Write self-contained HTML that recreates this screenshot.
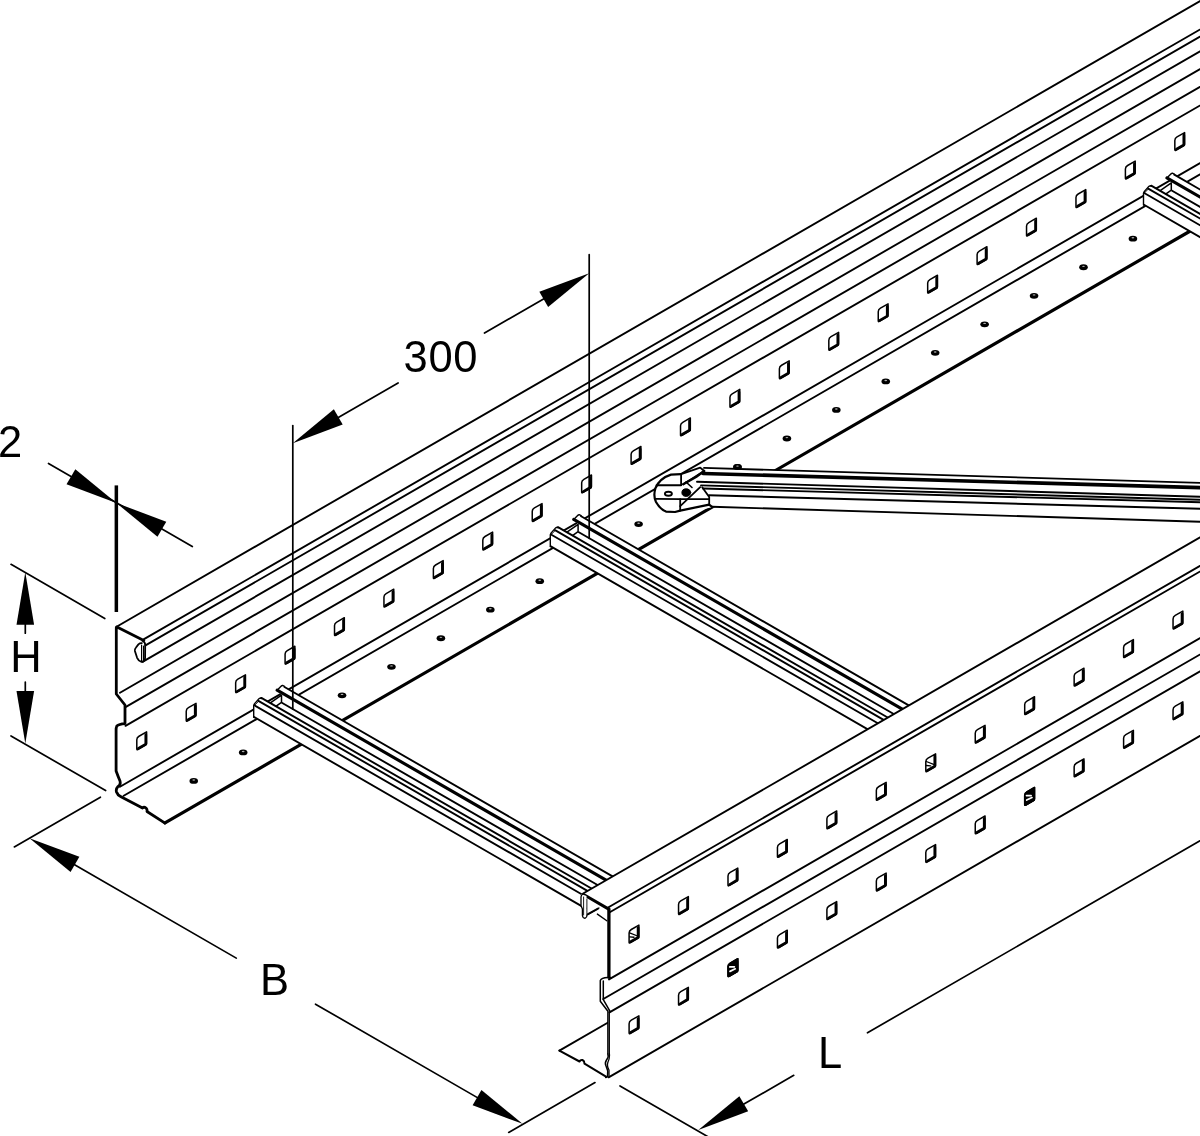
<!DOCTYPE html>
<html><head><meta charset="utf-8"><title>Cable ladder</title>
<style>
html,body{margin:0;padding:0;background:#fff;}
body{width:1200px;height:1136px;overflow:hidden;position:relative;font-family:"Liberation Sans",sans-serif;}
svg{position:absolute;left:0;top:0;display:block;}
text{font-family:"Liberation Sans",sans-serif;font-size:43.5px;fill:#000;}
</style></head><body>
<svg width="1200" height="1136" viewBox="0 0 1200 1136" stroke="#000" stroke-linecap="round" stroke-linejoin="round" fill="none">
<rect x="0" y="0" width="1200" height="1136" fill="#fff" stroke="none"/>
<line x1="117.00" y1="626.45" x2="1210.00" y2="-4.59" stroke-width="1.9" />
<line x1="144.00" y1="639.16" x2="1210.00" y2="23.71" stroke-width="1.9" />
<line x1="145.50" y1="645.40" x2="1210.00" y2="30.81" stroke-width="1.9" />
<line x1="142.50" y1="661.83" x2="1210.00" y2="45.51" stroke-width="1.9" />
<line x1="120.00" y1="692.72" x2="1210.00" y2="63.41" stroke-width="1.9" />
<line x1="125.50" y1="707.14" x2="1210.00" y2="81.01" stroke-width="1.9" />
<line x1="125.50" y1="725.84" x2="1210.00" y2="99.71" stroke-width="1.9" />
<line x1="120.00" y1="786.72" x2="1210.00" y2="157.41" stroke-width="1.9" />
<line x1="123.70" y1="795.78" x2="1210.00" y2="168.61" stroke-width="1.9" />
<line x1="165.00" y1="822.94" x2="1192.00" y2="230.00" stroke-width="3.2" />
<path d="M136.80,739.72 Q136.80,737.52 139.00,736.25 L146.60,731.86 L146.60,743.46 Q146.60,744.46 145.60,745.04 L137.80,749.54 Q136.80,750.12 136.80,749.12 Z" fill="#fff" stroke="#000" stroke-width="1.5"/>
<path d="M145.80,734.52 L145.80,744.12 L138.40,748.39" fill="none" stroke="#000" stroke-width="2.7"/>
<path d="M186.23,711.18 Q186.23,708.98 188.43,707.71 L196.03,703.32 L196.03,714.92 Q196.03,715.92 195.03,716.50 L187.23,721.00 Q186.23,721.58 186.23,720.58 Z" fill="#fff" stroke="#000" stroke-width="1.5"/>
<path d="M195.23,705.98 L195.23,715.58 L187.83,719.86" fill="none" stroke="#000" stroke-width="2.7"/>
<path d="M235.66,682.64 Q235.66,680.44 237.86,679.17 L245.46,674.78 L245.46,686.38 Q245.46,687.38 244.46,687.96 L236.66,692.46 Q235.66,693.04 235.66,692.04 Z" fill="#fff" stroke="#000" stroke-width="1.5"/>
<path d="M244.66,677.45 L244.66,687.05 L237.26,691.32" fill="none" stroke="#000" stroke-width="2.7"/>
<path d="M285.09,654.10 Q285.09,651.90 287.29,650.63 L294.89,646.25 L294.89,657.85 Q294.89,658.85 293.89,659.42 L286.09,663.93 Q285.09,664.50 285.09,663.50 Z" fill="#fff" stroke="#000" stroke-width="1.5"/>
<path d="M294.09,648.91 L294.09,658.51 L286.69,662.78" fill="none" stroke="#000" stroke-width="2.7"/>
<path d="M334.52,625.56 Q334.52,623.36 336.72,622.09 L344.32,617.71 L344.32,629.31 Q344.32,630.31 343.32,630.88 L335.52,635.39 Q334.52,635.96 334.52,634.96 Z" fill="#fff" stroke="#000" stroke-width="1.5"/>
<path d="M343.52,620.37 L343.52,629.97 L336.12,634.24" fill="none" stroke="#000" stroke-width="2.7"/>
<path d="M383.95,597.03 Q383.95,594.83 386.15,593.56 L393.75,589.17 L393.75,600.77 Q393.75,601.77 392.75,602.35 L384.95,606.85 Q383.95,607.43 383.95,606.43 Z" fill="#fff" stroke="#000" stroke-width="1.5"/>
<path d="M392.95,591.83 L392.95,601.43 L385.55,605.70" fill="none" stroke="#000" stroke-width="2.7"/>
<path d="M433.38,568.49 Q433.38,566.29 435.58,565.02 L443.18,560.63 L443.18,572.23 Q443.18,573.23 442.18,573.81 L434.38,578.31 Q433.38,578.89 433.38,577.89 Z" fill="#fff" stroke="#000" stroke-width="1.5"/>
<path d="M442.38,563.29 L442.38,572.89 L434.98,577.16" fill="none" stroke="#000" stroke-width="2.7"/>
<path d="M482.81,539.95 Q482.81,537.75 485.01,536.48 L492.61,532.09 L492.61,543.69 Q492.61,544.69 491.61,545.27 L483.81,549.77 Q482.81,550.35 482.81,549.35 Z" fill="#fff" stroke="#000" stroke-width="1.5"/>
<path d="M491.81,534.75 L491.81,544.35 L484.41,548.63" fill="none" stroke="#000" stroke-width="2.7"/>
<path d="M532.24,511.41 Q532.24,509.21 534.44,507.94 L542.04,503.55 L542.04,515.15 Q542.04,516.15 541.04,516.73 L533.24,521.23 Q532.24,521.81 532.24,520.81 Z" fill="#fff" stroke="#000" stroke-width="1.5"/>
<path d="M541.24,506.21 L541.24,515.81 L533.84,520.09" fill="none" stroke="#000" stroke-width="2.7"/>
<path d="M581.67,482.87 Q581.67,480.67 583.87,479.40 L591.47,475.01 L591.47,486.61 Q591.47,487.61 590.47,488.19 L582.67,492.70 Q581.67,493.27 581.67,492.27 Z" fill="#fff" stroke="#000" stroke-width="1.5"/>
<path d="M590.67,477.68 L590.67,487.28 L583.27,491.55" fill="none" stroke="#000" stroke-width="2.7"/>
<path d="M631.10,454.33 Q631.10,452.13 633.30,450.86 L640.90,446.48 L640.90,458.08 Q640.90,459.08 639.90,459.65 L632.10,464.16 Q631.10,464.73 631.10,463.73 Z" fill="#fff" stroke="#000" stroke-width="1.5"/>
<path d="M640.10,449.14 L640.10,458.74 L632.70,463.01" fill="none" stroke="#000" stroke-width="2.7"/>
<path d="M680.53,425.80 Q680.53,423.60 682.73,422.33 L690.33,417.94 L690.33,429.54 Q690.33,430.54 689.33,431.12 L681.53,435.62 Q680.53,436.20 680.53,435.20 Z" fill="#fff" stroke="#000" stroke-width="1.5"/>
<path d="M689.53,420.60 L689.53,430.20 L682.13,434.47" fill="none" stroke="#000" stroke-width="2.7"/>
<path d="M729.96,397.26 Q729.96,395.06 732.16,393.79 L739.76,389.40 L739.76,401.00 Q739.76,402.00 738.76,402.58 L730.96,407.08 Q729.96,407.66 729.96,406.66 Z" fill="#fff" stroke="#000" stroke-width="1.5"/>
<path d="M738.96,392.06 L738.96,401.66 L731.56,405.93" fill="none" stroke="#000" stroke-width="2.7"/>
<path d="M779.39,368.72 Q779.39,366.52 781.59,365.25 L789.19,360.86 L789.19,372.46 Q789.19,373.46 788.19,374.04 L780.39,378.54 Q779.39,379.12 779.39,378.12 Z" fill="#fff" stroke="#000" stroke-width="1.5"/>
<path d="M788.39,363.52 L788.39,373.12 L780.99,377.40" fill="none" stroke="#000" stroke-width="2.7"/>
<path d="M828.82,340.18 Q828.82,337.98 831.02,336.71 L838.62,332.32 L838.62,343.92 Q838.62,344.92 837.62,345.50 L829.82,350.00 Q828.82,350.58 828.82,349.58 Z" fill="#fff" stroke="#000" stroke-width="1.5"/>
<path d="M837.82,334.98 L837.82,344.58 L830.42,348.86" fill="none" stroke="#000" stroke-width="2.7"/>
<path d="M878.25,311.64 Q878.25,309.44 880.45,308.17 L888.05,303.78 L888.05,315.38 Q888.05,316.38 887.05,316.96 L879.25,321.46 Q878.25,322.04 878.25,321.04 Z" fill="#fff" stroke="#000" stroke-width="1.5"/>
<path d="M887.25,306.45 L887.25,316.05 L879.85,320.32" fill="none" stroke="#000" stroke-width="2.7"/>
<path d="M927.68,283.10 Q927.68,280.90 929.88,279.63 L937.48,275.25 L937.48,286.85 Q937.48,287.85 936.48,288.42 L928.68,292.93 Q927.68,293.50 927.68,292.50 Z" fill="#fff" stroke="#000" stroke-width="1.5"/>
<path d="M936.68,277.91 L936.68,287.51 L929.28,291.78" fill="none" stroke="#000" stroke-width="2.7"/>
<path d="M977.11,254.57 Q977.11,252.37 979.31,251.10 L986.91,246.71 L986.91,258.31 Q986.91,259.31 985.91,259.88 L978.11,264.39 Q977.11,264.97 977.11,263.97 Z" fill="#fff" stroke="#000" stroke-width="1.5"/>
<path d="M986.11,249.37 L986.11,258.97 L978.71,263.24" fill="none" stroke="#000" stroke-width="2.7"/>
<path d="M1026.54,226.03 Q1026.54,223.83 1028.74,222.56 L1036.34,218.17 L1036.34,229.77 Q1036.34,230.77 1035.34,231.35 L1027.54,235.85 Q1026.54,236.43 1026.54,235.43 Z" fill="#fff" stroke="#000" stroke-width="1.5"/>
<path d="M1035.54,220.83 L1035.54,230.43 L1028.14,234.70" fill="none" stroke="#000" stroke-width="2.7"/>
<path d="M1075.97,197.49 Q1075.97,195.29 1078.17,194.02 L1085.77,189.63 L1085.77,201.23 Q1085.77,202.23 1084.77,202.81 L1076.97,207.31 Q1075.97,207.89 1075.97,206.89 Z" fill="#fff" stroke="#000" stroke-width="1.5"/>
<path d="M1084.97,192.29 L1084.97,201.89 L1077.57,206.16" fill="none" stroke="#000" stroke-width="2.7"/>
<path d="M1125.40,168.95 Q1125.40,166.75 1127.60,165.48 L1135.20,161.09 L1135.20,172.69 Q1135.20,173.69 1134.20,174.27 L1126.40,178.77 Q1125.40,179.35 1125.40,178.35 Z" fill="#fff" stroke="#000" stroke-width="1.5"/>
<path d="M1134.40,163.75 L1134.40,173.35 L1127.00,177.63" fill="none" stroke="#000" stroke-width="2.7"/>
<path d="M1174.83,140.41 Q1174.83,138.21 1177.03,136.94 L1184.63,132.55 L1184.63,144.15 Q1184.63,145.15 1183.63,145.73 L1175.83,150.23 Q1174.83,150.81 1174.83,149.81 Z" fill="#fff" stroke="#000" stroke-width="1.5"/>
<path d="M1183.83,135.22 L1183.83,144.82 L1176.43,149.09" fill="none" stroke="#000" stroke-width="2.7"/>
<path d="M1224.26,111.87 Q1224.26,109.67 1226.46,108.40 L1234.06,104.02 L1234.06,115.62 Q1234.06,116.62 1233.06,117.19 L1225.26,121.70 Q1224.26,122.27 1224.26,121.27 Z" fill="#fff" stroke="#000" stroke-width="1.5"/>
<path d="M1233.26,106.68 L1233.26,116.28 L1225.86,120.55" fill="none" stroke="#000" stroke-width="2.7"/>
<ellipse cx="193.75" cy="780.94" rx="4.3" ry="2.9" fill="#000" stroke="none"/>
<ellipse cx="193.75" cy="780.04" rx="1.4" ry="0.7" fill="#aaa" stroke="none"/>
<ellipse cx="243.18" cy="752.40" rx="4.3" ry="2.9" fill="#000" stroke="none"/>
<ellipse cx="243.18" cy="751.50" rx="1.4" ry="0.7" fill="#aaa" stroke="none"/>
<ellipse cx="292.61" cy="723.86" rx="4.3" ry="2.9" fill="#000" stroke="none"/>
<ellipse cx="292.61" cy="722.96" rx="1.4" ry="0.7" fill="#aaa" stroke="none"/>
<ellipse cx="342.04" cy="695.32" rx="4.3" ry="2.9" fill="#000" stroke="none"/>
<ellipse cx="342.04" cy="694.42" rx="1.4" ry="0.7" fill="#aaa" stroke="none"/>
<ellipse cx="391.47" cy="666.78" rx="4.3" ry="2.9" fill="#000" stroke="none"/>
<ellipse cx="391.47" cy="665.88" rx="1.4" ry="0.7" fill="#aaa" stroke="none"/>
<ellipse cx="440.90" cy="638.25" rx="4.3" ry="2.9" fill="#000" stroke="none"/>
<ellipse cx="440.90" cy="637.35" rx="1.4" ry="0.7" fill="#aaa" stroke="none"/>
<ellipse cx="490.33" cy="609.71" rx="4.3" ry="2.9" fill="#000" stroke="none"/>
<ellipse cx="490.33" cy="608.81" rx="1.4" ry="0.7" fill="#aaa" stroke="none"/>
<ellipse cx="539.76" cy="581.17" rx="4.3" ry="2.9" fill="#000" stroke="none"/>
<ellipse cx="539.76" cy="580.27" rx="1.4" ry="0.7" fill="#aaa" stroke="none"/>
<ellipse cx="589.19" cy="552.63" rx="4.3" ry="2.9" fill="#000" stroke="none"/>
<ellipse cx="589.19" cy="551.73" rx="1.4" ry="0.7" fill="#aaa" stroke="none"/>
<ellipse cx="638.62" cy="524.09" rx="4.3" ry="2.9" fill="#000" stroke="none"/>
<ellipse cx="638.62" cy="523.19" rx="1.4" ry="0.7" fill="#aaa" stroke="none"/>
<ellipse cx="688.05" cy="495.55" rx="4.3" ry="2.9" fill="#000" stroke="none"/>
<ellipse cx="688.05" cy="494.65" rx="1.4" ry="0.7" fill="#aaa" stroke="none"/>
<ellipse cx="737.48" cy="467.02" rx="4.3" ry="2.9" fill="#000" stroke="none"/>
<ellipse cx="737.48" cy="466.12" rx="1.4" ry="0.7" fill="#aaa" stroke="none"/>
<ellipse cx="786.91" cy="438.48" rx="4.3" ry="2.9" fill="#000" stroke="none"/>
<ellipse cx="786.91" cy="437.58" rx="1.4" ry="0.7" fill="#aaa" stroke="none"/>
<ellipse cx="836.34" cy="409.94" rx="4.3" ry="2.9" fill="#000" stroke="none"/>
<ellipse cx="836.34" cy="409.04" rx="1.4" ry="0.7" fill="#aaa" stroke="none"/>
<ellipse cx="885.77" cy="381.40" rx="4.3" ry="2.9" fill="#000" stroke="none"/>
<ellipse cx="885.77" cy="380.50" rx="1.4" ry="0.7" fill="#aaa" stroke="none"/>
<ellipse cx="935.20" cy="352.86" rx="4.3" ry="2.9" fill="#000" stroke="none"/>
<ellipse cx="935.20" cy="351.96" rx="1.4" ry="0.7" fill="#aaa" stroke="none"/>
<ellipse cx="984.63" cy="324.32" rx="4.3" ry="2.9" fill="#000" stroke="none"/>
<ellipse cx="984.63" cy="323.42" rx="1.4" ry="0.7" fill="#aaa" stroke="none"/>
<ellipse cx="1034.06" cy="295.79" rx="4.3" ry="2.9" fill="#000" stroke="none"/>
<ellipse cx="1034.06" cy="294.89" rx="1.4" ry="0.7" fill="#aaa" stroke="none"/>
<ellipse cx="1083.49" cy="267.25" rx="4.3" ry="2.9" fill="#000" stroke="none"/>
<ellipse cx="1083.49" cy="266.35" rx="1.4" ry="0.7" fill="#aaa" stroke="none"/>
<ellipse cx="1132.92" cy="238.71" rx="4.3" ry="2.9" fill="#000" stroke="none"/>
<ellipse cx="1132.92" cy="237.81" rx="1.4" ry="0.7" fill="#aaa" stroke="none"/>
<ellipse cx="1182.35" cy="210.17" rx="4.3" ry="2.9" fill="#000" stroke="none"/>
<ellipse cx="1182.35" cy="209.27" rx="1.4" ry="0.7" fill="#aaa" stroke="none"/>
<ellipse cx="1231.78" cy="181.63" rx="4.3" ry="2.9" fill="#000" stroke="none"/>
<ellipse cx="1231.78" cy="180.73" rx="1.4" ry="0.7" fill="#aaa" stroke="none"/>
<path d="M143.8,640.4 L117,627 Q116.3,626.8 116.3,628 L116.3,694 L125,705 L125,723.6 Q119,724 116.8,726 Q116.1,727.5 116.1,730 L116.1,771 Q118.3,777 120,781 Q121,785 118,786.5 Q115.6,789 116.5,792 Q117.5,795 121,796.8 L142.5,808 Q144,806.5 146,808 Q147.5,809.5 147,811.5 L165,823.1" fill="none" stroke="#000" stroke-width="2.8"/>
<path d="M142.5,641 Q145.3,642 145.2,645 L145.1,658 Q144.8,661.8 141.5,661.9 Q138.5,661 137.1,657.8 L134.9,651 Q134.6,649 136,647.5 L138.4,644.4 Q140,643 141.8,643.2" fill="none" stroke="#000" stroke-width="1.8"/>
<path d="M141.6,645 L141.6,661 M143.6,646 L143.6,660.5" fill="none" stroke="#000" stroke-width="1.2"/>
<polygon points="700.00,468.00 1210.00,483.20 1210.00,522.00 712.00,507.20 700.00,510.00 681.00,510.50 665.00,511.50 655.00,503.00 654.00,492.00 660.00,481.00 671.00,475.00 681.00,474.00" fill="#fff" stroke="none" stroke-width="1.3"/>
<line x1="704.00" y1="467.91" x2="1210.00" y2="483.20" stroke-width="1.9" />
<line x1="703.00" y1="473.48" x2="1210.00" y2="487.88" stroke-width="3.6" />
<line x1="697.00" y1="481.72" x2="1210.00" y2="497.00" stroke-width="1.9" />
<line x1="701.00" y1="485.41" x2="1210.00" y2="499.99" stroke-width="1.9" />
<line x1="703.00" y1="488.53" x2="1210.00" y2="502.47" stroke-width="1.9" />
<line x1="709.00" y1="495.31" x2="1210.00" y2="508.97" stroke-width="1.9" />
<line x1="712.00" y1="506.73" x2="1210.00" y2="522.01" stroke-width="1.9" />
<path d="M681.1,474.1 L671,474.6 Q660,478 655.5,488 Q653,496 656,502 Q660,509 666,511.6 L675,512 L680.2,510.6 L709.2,504.7 L712,506.8" fill="none" stroke="#000" stroke-width="2.2"/>
<path d="M656.5,485.2 L681.1,485.2" fill="none" stroke="#000" stroke-width="1.9"/>
<path d="M656,498.8 L680.2,499.2 L709.2,499.2" fill="none" stroke="#000" stroke-width="1.8"/>
<path d="M681.1,474.1 L681.1,485.2 M680.2,499.2 L680.2,510.6" fill="none" stroke="#000" stroke-width="1.8"/>
<path d="M681.1,474.1 L700.2,467.6 L704.2,471 L683.2,484.2" fill="none" stroke="#000" stroke-width="1.9"/>
<path d="M683.2,484.2 L696,477 L704.2,471" fill="none" stroke="#000" stroke-width="2.4"/>
<path d="M680.2,506.2 L700.2,487.2 M702.2,487.2 L709.2,497 L709.2,504.7" fill="none" stroke="#000" stroke-width="1.8"/>
<path d="M686,482 L692,487.5" fill="none" stroke="#000" stroke-width="1.6"/>
<ellipse cx="668.4" cy="493.7" rx="3.5" ry="2.0" fill="#fff" stroke="#000" stroke-width="1.9"/>
<ellipse cx="737.48" cy="467.02" rx="4.3" ry="2.9" fill="#000" stroke="none"/>
<ellipse cx="737.48" cy="466.12" rx="1.4" ry="0.7" fill="#aaa" stroke="none"/>
<ellipse cx="686.3" cy="492.6" rx="4.4" ry="3.8" fill="#000"/>
<polygon points="253.70,717.30 253.70,704.60 259.70,698.10 261.40,698.40 270.40,703.60 281.50,695.10 277.10,690.00 282.00,685.30 284.50,686.40 612.71,876.45 583.49,907.18" fill="#fff" stroke="none" stroke-width="1.3"/>
<line x1="284.50" y1="686.96" x2="614.71" y2="877.60" stroke-width="1.9" />
<line x1="277.10" y1="690.18" x2="608.22" y2="881.35" stroke-width="3.1" />
<line x1="282.30" y1="702.99" x2="599.73" y2="886.25" stroke-width="1.9" />
<line x1="261.40" y1="697.92" x2="593.67" y2="889.75" stroke-width="1.9" />
<line x1="258.40" y1="700.89" x2="590.46" y2="892.60" stroke-width="1.9" />
<line x1="254.40" y1="705.28" x2="583.80" y2="895.45" stroke-width="1.9" />
<line x1="254.20" y1="717.06" x2="585.49" y2="908.33" stroke-width="1.9" />
<path d="M253.70,717.30 L253.70,705.60 L254.60,703.60 L259.00,698.60 L260.60,698.00 L261.60,698.50" fill="none" stroke="#000" stroke-width="1.4"/>
<path d="M254.30,705.50 L258.40,701.40" fill="none" stroke="#000" stroke-width="1.0"/>
<path d="M270.40,702.80 L281.50,695.10 L281.50,702.30 L276.20,706.20" fill="none" stroke="#000" stroke-width="1.5"/>
<path d="M277.10,690.30 L281.30,686.00 L282.60,685.40 L284.50,686.40" fill="none" stroke="#000" stroke-width="1.4"/>
<polygon points="550.30,546.55 550.30,533.85 556.30,527.35 558.00,527.65 567.00,532.85 578.10,524.35 573.70,519.25 578.60,514.55 581.10,515.65 908.89,705.45 879.67,736.18" fill="#fff" stroke="none" stroke-width="1.3"/>
<line x1="581.10" y1="516.20" x2="910.89" y2="706.61" stroke-width="1.9" />
<line x1="573.70" y1="519.43" x2="904.40" y2="710.36" stroke-width="3.1" />
<line x1="578.90" y1="532.23" x2="895.91" y2="715.26" stroke-width="1.9" />
<line x1="558.00" y1="527.17" x2="889.85" y2="718.76" stroke-width="1.9" />
<line x1="555.00" y1="530.13" x2="886.64" y2="721.61" stroke-width="1.9" />
<line x1="551.00" y1="534.52" x2="879.97" y2="724.46" stroke-width="1.9" />
<line x1="550.80" y1="546.31" x2="881.67" y2="737.33" stroke-width="1.9" />
<path d="M550.30,546.55 L550.30,534.85 L551.20,532.85 L555.60,527.85 L557.20,527.25 L558.20,527.75" fill="none" stroke="#000" stroke-width="1.4"/>
<path d="M550.90,534.75 L555.00,530.65" fill="none" stroke="#000" stroke-width="1.0"/>
<path d="M567.00,532.05 L578.10,524.35 L578.10,531.55 L572.80,535.45" fill="none" stroke="#000" stroke-width="1.5"/>
<path d="M573.70,519.55 L577.90,515.25 L579.20,514.65 L581.10,515.65" fill="none" stroke="#000" stroke-width="1.4"/>
<polygon points="1143.50,205.04 1143.50,192.34 1149.50,185.84 1151.20,186.14 1160.20,191.34 1171.30,182.84 1166.90,177.74 1171.80,173.04 1174.30,174.14 1501.25,363.46 1472.02,394.18" fill="#fff" stroke="none" stroke-width="1.3"/>
<line x1="1174.30" y1="174.69" x2="1503.25" y2="364.61" stroke-width="1.9" />
<line x1="1166.90" y1="177.92" x2="1496.75" y2="368.36" stroke-width="3.1" />
<line x1="1172.10" y1="190.72" x2="1488.26" y2="373.26" stroke-width="1.9" />
<line x1="1151.20" y1="185.66" x2="1482.20" y2="376.76" stroke-width="1.9" />
<line x1="1148.20" y1="188.62" x2="1479.00" y2="379.61" stroke-width="1.9" />
<line x1="1144.20" y1="193.01" x2="1472.33" y2="382.46" stroke-width="1.9" />
<line x1="1144.00" y1="204.80" x2="1474.02" y2="395.34" stroke-width="1.9" />
<path d="M1143.50,205.04 L1143.50,193.34 L1144.40,191.34 L1148.80,186.34 L1150.40,185.74 L1151.40,186.24" fill="none" stroke="#000" stroke-width="1.4"/>
<path d="M1144.10,193.24 L1148.20,189.14" fill="none" stroke="#000" stroke-width="1.0"/>
<path d="M1160.20,190.54 L1171.30,182.84 L1171.30,190.04 L1166.00,193.94" fill="none" stroke="#000" stroke-width="1.5"/>
<path d="M1166.90,178.04 L1171.10,173.74 L1172.40,173.14 L1174.30,174.14" fill="none" stroke="#000" stroke-width="1.4"/>
<polygon points="559.40,1050.60 608.10,1022.50 608.10,1077.50" fill="#fff" stroke="none" stroke-width="1.3"/>
<line x1="559.40" y1="1050.63" x2="608.10" y2="1022.51" stroke-width="1.9" />
<path d="M559.4,1050.6 L579.5,1061.5 Q580.5,1059.5 582.5,1060 Q584.5,1061 584.5,1063.7 L606,1076.6" fill="none" stroke="#000" stroke-width="2.0"/>
<polygon points="583.10,893.55 1210.00,531.61 1210.00,730.11 608.10,1078.41 607.80,1053.00 608.10,1011.50 600.20,1001.50 600.20,979.00 607.60,977.50 607.60,908.20" fill="#fff" stroke="none" stroke-width="1.3"/>
<line x1="583.10" y1="893.55" x2="1210.00" y2="531.61" stroke-width="1.9" />
<line x1="608.10" y1="907.51" x2="1210.00" y2="560.01" stroke-width="1.9" />
<line x1="610.20" y1="912.00" x2="1210.00" y2="565.71" stroke-width="1.9" />
<line x1="609.00" y1="979.39" x2="1210.00" y2="632.41" stroke-width="1.9" />
<line x1="603.30" y1="998.98" x2="1210.00" y2="648.71" stroke-width="1.9" />
<line x1="609.50" y1="1012.31" x2="1210.00" y2="665.61" stroke-width="1.9" />
<line x1="608.60" y1="1077.32" x2="1210.00" y2="730.11" stroke-width="1.9" />
<path d="M629.10,932.99 Q629.10,930.79 631.30,929.52 L638.90,925.13 L638.90,936.73 Q638.90,937.73 637.90,938.31 L630.10,942.81 Q629.10,943.39 629.10,942.39 Z" fill="#fff" stroke="#000" stroke-width="1.5"/>
<path d="M638.10,927.79 L638.10,937.39 L630.70,941.67" fill="none" stroke="#000" stroke-width="2.7"/>
<path d="M629.60,932.79 L636.90,935.73 M629.60,936.79 L634.00,937.26" fill="none" stroke="#000" stroke-width="1.3"/>
<path d="M629.10,1023.69 Q629.10,1021.49 631.30,1020.22 L638.90,1015.83 L638.90,1027.43 Q638.90,1028.43 637.90,1029.01 L630.10,1033.51 Q629.10,1034.09 629.10,1033.09 Z" fill="#fff" stroke="#000" stroke-width="1.5"/>
<path d="M638.10,1018.49 L638.10,1028.09 L630.70,1032.37" fill="none" stroke="#000" stroke-width="2.7"/>
<path d="M678.55,904.44 Q678.55,902.24 680.75,900.97 L688.35,896.58 L688.35,908.18 Q688.35,909.18 687.35,909.76 L679.55,914.26 Q678.55,914.84 678.55,913.84 Z" fill="#fff" stroke="#000" stroke-width="1.5"/>
<path d="M687.55,899.24 L687.55,908.84 L680.15,913.12" fill="none" stroke="#000" stroke-width="2.7"/>
<path d="M678.55,995.14 Q678.55,992.94 680.75,991.67 L688.35,987.28 L688.35,998.88 Q688.35,999.88 687.35,1000.46 L679.55,1004.96 Q678.55,1005.54 678.55,1004.54 Z" fill="#fff" stroke="#000" stroke-width="1.5"/>
<path d="M687.55,989.94 L687.55,999.54 L680.15,1003.82" fill="none" stroke="#000" stroke-width="2.7"/>
<path d="M728.00,875.89 Q728.00,873.69 730.20,872.42 L737.80,868.03 L737.80,879.63 Q737.80,880.63 736.80,881.21 L729.00,885.71 Q728.00,886.29 728.00,885.29 Z" fill="#fff" stroke="#000" stroke-width="1.5"/>
<path d="M737.00,870.69 L737.00,880.29 L729.60,884.57" fill="none" stroke="#000" stroke-width="2.7"/>
<path d="M728.00,966.59 Q728.00,964.39 730.20,963.12 L737.80,958.73 L737.80,970.33 Q737.80,971.33 736.80,971.91 L729.00,976.41 Q728.00,976.99 728.00,975.99 Z" fill="#fff" stroke="#000" stroke-width="1.5"/>
<path d="M737.00,961.39 L737.00,970.99 L729.60,975.27" fill="none" stroke="#000" stroke-width="2.7"/>
<path d="M728.00,966.59 Q728.00,964.39 730.20,963.12 L737.80,958.73 L737.80,970.33 Q737.80,971.33 736.80,971.91 L729.00,976.41 Q728.00,976.99 728.00,975.99 Z" fill="#000" stroke="#000" stroke-width="1.5"/>
<path d="M729.80,966.89 L734.40,966.86 M730.00,971.36 L735.30,968.83" fill="none" stroke="#fff" stroke-width="1.7"/>
<path d="M777.45,847.34 Q777.45,845.14 779.65,843.87 L787.25,839.48 L787.25,851.08 Q787.25,852.08 786.25,852.66 L778.45,857.16 Q777.45,857.74 777.45,856.74 Z" fill="#fff" stroke="#000" stroke-width="1.5"/>
<path d="M786.45,842.14 L786.45,851.74 L779.05,856.02" fill="none" stroke="#000" stroke-width="2.7"/>
<path d="M777.45,938.04 Q777.45,935.84 779.65,934.57 L787.25,930.18 L787.25,941.78 Q787.25,942.78 786.25,943.36 L778.45,947.86 Q777.45,948.44 777.45,947.44 Z" fill="#fff" stroke="#000" stroke-width="1.5"/>
<path d="M786.45,932.84 L786.45,942.44 L779.05,946.72" fill="none" stroke="#000" stroke-width="2.7"/>
<path d="M826.90,818.79 Q826.90,816.59 829.10,815.32 L836.70,810.93 L836.70,822.53 Q836.70,823.53 835.70,824.11 L827.90,828.61 Q826.90,829.19 826.90,828.19 Z" fill="#fff" stroke="#000" stroke-width="1.5"/>
<path d="M835.90,813.59 L835.90,823.19 L828.50,827.47" fill="none" stroke="#000" stroke-width="2.7"/>
<path d="M826.90,909.49 Q826.90,907.29 829.10,906.02 L836.70,901.63 L836.70,913.23 Q836.70,914.23 835.70,914.81 L827.90,919.31 Q826.90,919.89 826.90,918.89 Z" fill="#fff" stroke="#000" stroke-width="1.5"/>
<path d="M835.90,904.29 L835.90,913.89 L828.50,918.17" fill="none" stroke="#000" stroke-width="2.7"/>
<path d="M876.35,790.24 Q876.35,788.04 878.55,786.77 L886.15,782.38 L886.15,793.98 Q886.15,794.98 885.15,795.56 L877.35,800.06 Q876.35,800.64 876.35,799.64 Z" fill="#fff" stroke="#000" stroke-width="1.5"/>
<path d="M885.35,785.04 L885.35,794.64 L877.95,798.92" fill="none" stroke="#000" stroke-width="2.7"/>
<path d="M876.35,880.94 Q876.35,878.74 878.55,877.47 L886.15,873.08 L886.15,884.68 Q886.15,885.68 885.15,886.26 L877.35,890.76 Q876.35,891.34 876.35,890.34 Z" fill="#fff" stroke="#000" stroke-width="1.5"/>
<path d="M885.35,875.74 L885.35,885.34 L877.95,889.62" fill="none" stroke="#000" stroke-width="2.7"/>
<path d="M925.80,761.69 Q925.80,759.49 928.00,758.22 L935.60,753.83 L935.60,765.43 Q935.60,766.43 934.60,767.01 L926.80,771.51 Q925.80,772.09 925.80,771.09 Z" fill="#fff" stroke="#000" stroke-width="1.5"/>
<path d="M934.80,756.49 L934.80,766.09 L927.40,770.37" fill="none" stroke="#000" stroke-width="2.7"/>
<path d="M926.30,761.49 L933.60,764.43 M926.30,765.49 L930.70,765.96" fill="none" stroke="#000" stroke-width="1.3"/>
<path d="M925.80,852.39 Q925.80,850.19 928.00,848.92 L935.60,844.53 L935.60,856.13 Q935.60,857.13 934.60,857.71 L926.80,862.21 Q925.80,862.79 925.80,861.79 Z" fill="#fff" stroke="#000" stroke-width="1.5"/>
<path d="M934.80,847.19 L934.80,856.79 L927.40,861.07" fill="none" stroke="#000" stroke-width="2.7"/>
<path d="M975.25,733.14 Q975.25,730.94 977.45,729.67 L985.05,725.28 L985.05,736.88 Q985.05,737.88 984.05,738.46 L976.25,742.96 Q975.25,743.54 975.25,742.54 Z" fill="#fff" stroke="#000" stroke-width="1.5"/>
<path d="M984.25,727.94 L984.25,737.54 L976.85,741.82" fill="none" stroke="#000" stroke-width="2.7"/>
<path d="M975.25,823.84 Q975.25,821.64 977.45,820.37 L985.05,815.98 L985.05,827.58 Q985.05,828.58 984.05,829.16 L976.25,833.66 Q975.25,834.24 975.25,833.24 Z" fill="#fff" stroke="#000" stroke-width="1.5"/>
<path d="M984.25,818.64 L984.25,828.24 L976.85,832.52" fill="none" stroke="#000" stroke-width="2.7"/>
<path d="M1024.70,704.59 Q1024.70,702.39 1026.90,701.12 L1034.50,696.73 L1034.50,708.33 Q1034.50,709.33 1033.50,709.91 L1025.70,714.41 Q1024.70,714.99 1024.70,713.99 Z" fill="#fff" stroke="#000" stroke-width="1.5"/>
<path d="M1033.70,699.39 L1033.70,708.99 L1026.30,713.27" fill="none" stroke="#000" stroke-width="2.7"/>
<path d="M1024.70,795.29 Q1024.70,793.09 1026.90,791.82 L1034.50,787.43 L1034.50,799.03 Q1034.50,800.03 1033.50,800.61 L1025.70,805.11 Q1024.70,805.69 1024.70,804.69 Z" fill="#fff" stroke="#000" stroke-width="1.5"/>
<path d="M1033.70,790.09 L1033.70,799.69 L1026.30,803.97" fill="none" stroke="#000" stroke-width="2.7"/>
<path d="M1024.70,795.29 Q1024.70,793.09 1026.90,791.82 L1034.50,787.43 L1034.50,799.03 Q1034.50,800.03 1033.50,800.61 L1025.70,805.11 Q1024.70,805.69 1024.70,804.69 Z" fill="#000" stroke="#000" stroke-width="1.5"/>
<path d="M1026.50,795.59 L1031.10,795.56 M1026.70,800.06 L1032.00,797.53" fill="none" stroke="#fff" stroke-width="1.7"/>
<path d="M1074.15,676.04 Q1074.15,673.84 1076.35,672.57 L1083.95,668.18 L1083.95,679.78 Q1083.95,680.78 1082.95,681.36 L1075.15,685.86 Q1074.15,686.44 1074.15,685.44 Z" fill="#fff" stroke="#000" stroke-width="1.5"/>
<path d="M1083.15,670.84 L1083.15,680.44 L1075.75,684.72" fill="none" stroke="#000" stroke-width="2.7"/>
<path d="M1074.15,766.74 Q1074.15,764.54 1076.35,763.27 L1083.95,758.88 L1083.95,770.48 Q1083.95,771.48 1082.95,772.06 L1075.15,776.56 Q1074.15,777.14 1074.15,776.14 Z" fill="#fff" stroke="#000" stroke-width="1.5"/>
<path d="M1083.15,761.54 L1083.15,771.14 L1075.75,775.42" fill="none" stroke="#000" stroke-width="2.7"/>
<path d="M1123.60,647.49 Q1123.60,645.29 1125.80,644.02 L1133.40,639.63 L1133.40,651.23 Q1133.40,652.23 1132.40,652.81 L1124.60,657.31 Q1123.60,657.89 1123.60,656.89 Z" fill="#fff" stroke="#000" stroke-width="1.5"/>
<path d="M1132.60,642.29 L1132.60,651.89 L1125.20,656.17" fill="none" stroke="#000" stroke-width="2.7"/>
<path d="M1123.60,738.19 Q1123.60,735.99 1125.80,734.72 L1133.40,730.33 L1133.40,741.93 Q1133.40,742.93 1132.40,743.51 L1124.60,748.01 Q1123.60,748.59 1123.60,747.59 Z" fill="#fff" stroke="#000" stroke-width="1.5"/>
<path d="M1132.60,732.99 L1132.60,742.59 L1125.20,746.87" fill="none" stroke="#000" stroke-width="2.7"/>
<path d="M1173.05,618.94 Q1173.05,616.74 1175.25,615.47 L1182.85,611.08 L1182.85,622.68 Q1182.85,623.68 1181.85,624.26 L1174.05,628.76 Q1173.05,629.34 1173.05,628.34 Z" fill="#fff" stroke="#000" stroke-width="1.5"/>
<path d="M1182.05,613.74 L1182.05,623.34 L1174.65,627.62" fill="none" stroke="#000" stroke-width="2.7"/>
<path d="M1173.05,709.64 Q1173.05,707.44 1175.25,706.17 L1182.85,701.78 L1182.85,713.38 Q1182.85,714.38 1181.85,714.96 L1174.05,719.46 Q1173.05,720.04 1173.05,719.04 Z" fill="#fff" stroke="#000" stroke-width="1.5"/>
<path d="M1182.05,704.44 L1182.05,714.04 L1174.65,718.32" fill="none" stroke="#000" stroke-width="2.7"/>
<path d="M1222.50,590.39 Q1222.50,588.19 1224.70,586.92 L1232.30,582.53 L1232.30,594.13 Q1232.30,595.13 1231.30,595.71 L1223.50,600.21 Q1222.50,600.79 1222.50,599.79 Z" fill="#fff" stroke="#000" stroke-width="1.5"/>
<path d="M1231.50,585.19 L1231.50,594.79 L1224.10,599.07" fill="none" stroke="#000" stroke-width="2.7"/>
<path d="M1223.00,590.19 L1230.30,593.13 M1223.00,594.19 L1227.40,594.66" fill="none" stroke="#000" stroke-width="1.3"/>
<path d="M1222.50,681.09 Q1222.50,678.89 1224.70,677.62 L1232.30,673.23 L1232.30,684.83 Q1232.30,685.83 1231.30,686.41 L1223.50,690.91 Q1222.50,691.49 1222.50,690.49 Z" fill="#fff" stroke="#000" stroke-width="1.5"/>
<path d="M1231.50,675.89 L1231.50,685.49 L1224.10,689.77" fill="none" stroke="#000" stroke-width="2.7"/>
<path d="M584,894.8 L608.3,908.9" fill="none" stroke="#000" stroke-width="3.0"/>
<path d="M608.9,909 L608.9,977.2" fill="none" stroke="#000" stroke-width="3.3"/>
<path d="M610.4,977.5 L607.6,977.6 Q601.5,978 600.3,980.5 L600.3,1001.3 L607.9,1011.3 L607.9,1054 M603.3,981 L603.3,999.6 L610.2,1011.6" fill="none" stroke="#000" stroke-width="1.5"/>
<path d="M607.9,1054 Q609,1057 606.5,1060 Q604.5,1063 606,1066 Q608.5,1071 607.6,1075 Q607.6,1077.6 605.6,1077.4" fill="none" stroke="#000" stroke-width="1.5"/>
<path d="M609.3,1011.8 L609.3,1053 Q610,1058 608.0,1062 Q606.5,1066 609,1070 L609,1076.6" fill="none" stroke="#000" stroke-width="1.3"/>
<polygon points="581.00,894.00 586.50,896.00 586.80,915.50 585.00,918.40 582.30,917.00 581.00,905.00" fill="#fff" stroke="none" stroke-width="1.3"/>
<path d="M583.1,893.8 Q581,894.6 581,897 L581,905.5 L582.4,909 L582.4,915.5 Q583,918.6 585.3,918.2 Q587,917.5 587,915 L599,908" fill="none" stroke="#000" stroke-width="1.3"/>
<path d="M583.6,897 L583.6,915" fill="none" stroke="#000" stroke-width="0.9"/>
<path d="M586.9,915 L586.9,899" fill="none" stroke="#000" stroke-width="0.9"/>
<path d="M588,914.2 L598,908.6" fill="none" stroke="#000" stroke-width="2.0"/>
<path d="M597.4,914.1 L606.8,920.8" fill="none" stroke="#000" stroke-width="1.4"/>
<rect x="114.6" y="485.4" width="3.5" height="126.6" fill="#000" stroke="none"/>
<line x1="48.50" y1="463.50" x2="192.30" y2="546.52" stroke-width="1.7" />
<polygon points="116.40,503.00 75.33,469.13 66.53,484.37" fill="#000" stroke="none" stroke-width="1.3"/>
<polygon points="116.40,503.00 157.47,536.87 166.27,521.63" fill="#000" stroke="none" stroke-width="1.3"/>
<line x1="11.00" y1="564.35" x2="104.80" y2="618.51" stroke-width="1.7" />
<line x1="11.00" y1="735.95" x2="105.60" y2="790.57" stroke-width="1.7" />
<polygon points="25.30,572.20 16.50,624.70 34.10,624.70" fill="#000" stroke="none" stroke-width="1.3"/>
<polygon points="25.30,743.60 34.10,691.10 16.50,691.10" fill="#000" stroke="none" stroke-width="1.3"/>
<line x1="25.30" y1="624.00" x2="25.30" y2="633.20" stroke-width="1.7" />
<line x1="25.30" y1="682.00" x2="25.30" y2="692.40" stroke-width="1.7" />
<line x1="292.80" y1="425.60" x2="292.80" y2="709.10" stroke-width="1.7" />
<line x1="589.20" y1="254.70" x2="589.20" y2="538.30" stroke-width="1.7" />
<polygon points="292.80,443.20 342.67,424.57 333.87,409.33" fill="#000" stroke="none" stroke-width="1.3"/>
<polygon points="589.20,273.20 539.33,291.83 548.13,307.07" fill="#000" stroke="none" stroke-width="1.3"/>
<line x1="337.00" y1="418.23" x2="398.10" y2="382.96" stroke-width="1.7" />
<line x1="484.50" y1="333.07" x2="547.00" y2="296.99" stroke-width="1.7" />
<line x1="14.30" y1="846.94" x2="100.40" y2="797.23" stroke-width="1.7" />
<polygon points="29.50,838.20 70.57,872.07 79.37,856.83" fill="#000" stroke="none" stroke-width="1.3"/>
<line x1="72.00" y1="863.27" x2="236.30" y2="958.13" stroke-width="1.7" />
<line x1="315.50" y1="1004.15" x2="480.00" y2="1099.13" stroke-width="1.7" />
<polygon points="522.50,1123.80 481.43,1089.93 472.63,1105.17" fill="#000" stroke="none" stroke-width="1.3"/>
<line x1="508.70" y1="1132.40" x2="595.00" y2="1082.58" stroke-width="1.7" />
<line x1="620.00" y1="1085.96" x2="708.00" y2="1136.76" stroke-width="1.7" />
<polygon points="698.30,1130.00 748.17,1111.37 739.37,1096.13" fill="#000" stroke="none" stroke-width="1.3"/>
<line x1="740.00" y1="1106.36" x2="793.80" y2="1075.30" stroke-width="1.7" />
<line x1="867.50" y1="1032.75" x2="1210.00" y2="835.01" stroke-width="1.7" />
<g stroke="none" style="filter:grayscale(1)">
<text x="-2.1" y="456.6">2</text>
<text x="10.2" y="672">H</text>
<text x="403.6" y="371.8" letter-spacing="0.6">300</text>
<text x="260.1" y="995.3">B</text>
<text x="817.9" y="1067.8">L</text>
</g>
</svg>
</body></html>
